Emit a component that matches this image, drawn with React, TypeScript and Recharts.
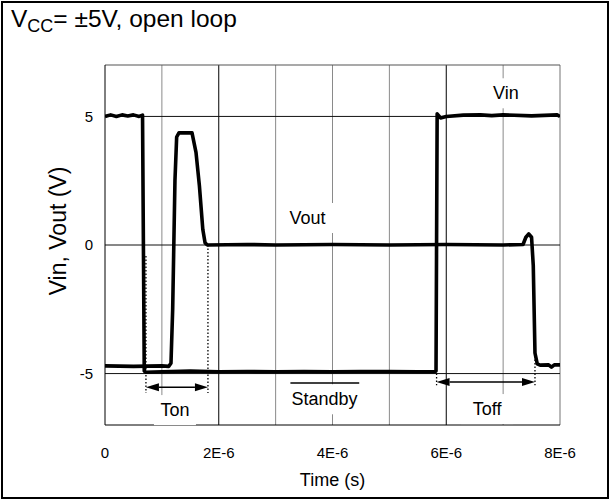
import {
  LineChart, Line, XAxis, YAxis, ReferenceLine, ReferenceDot,
} from 'recharts';

// time in microseconds, volts
const vinTime = [0, 0.1, 0.2, 0.3, 0.4, 0.5, 0.6, 0.66, 0.69, 0.72, 1.0, 1.5, 2.0, 2.5, 3.0, 3.5, 4.0, 4.5, 5.0, 5.5, 5.8, 5.82, 5.84, 5.9, 6.0, 6.3, 6.6, 6.8, 7.0, 7.5, 7.95, 8.0];
const vinValue = [5.0, 5.06, 5.0, 5.06, 5.02, 5.06, 5.0, 5.05, -4.9, -4.95, -4.93, -4.9, -4.93, -4.92, -4.93, -4.92, -4.93, -4.92, -4.92, -4.93, -4.93, -4.9, 5.1, 4.94, 5.0, 5.05, 5.06, 5.03, 5.06, 5.02, 5.06, 5.0];

const voutTime = [0, 0.5, 1.0, 1.12, 1.16, 1.19, 1.23, 1.26, 1.3, 1.53, 1.6, 1.66, 1.72, 1.76, 1.8, 2.5, 3.0, 4.0, 5.0, 6.0, 7.0, 7.35, 7.4, 7.45, 7.5, 7.53, 7.56, 7.6, 7.65, 7.8, 7.85, 7.9, 8.0];
const voutValue = [-4.7, -4.72, -4.7, -4.72, -4.6, -2.5, 2.5, 4.2, 4.36, 4.36, 3.6, 2.3, 0.6, 0.08, 0, 0.02, 0, 0.02, 0, 0.02, 0, 0.02, 0.3, 0.43, 0.3, -0.8, -4.2, -4.62, -4.67, -4.66, -4.75, -4.66, -4.66];

const xTicks = [0, 2, 4, 6, 8];
const yTicks = [-5, 0, 5];
const gridTimes = [1, 2, 3, 4, 5, 6, 7];
const darkGridTimes = [2, 6];

// switching markers (µs) and arrow levels (V)
const tonStart = 0.72;
const tonEnd = 1.81;
const toffStart = 5.83;
const toffEnd = 7.56;
const tonArrowLevel = -5.53;
const toffArrowLevel = -5.33;
const standbySpan = [3.26, 4.47];
const standbyLevel = -5.37;

const notes = [
  { text: 'Vout', t: 3.56, v: 1.05 },
  { text: 'Vin', t: 7.05, v: 5.9 },
  { text: 'Ton', t: 1.23, v: -6.42 },
  { text: 'Toff', t: 6.72, v: -6.38 },
  { text: 'Standby', t: 3.86, v: -6.0 },
];

const vin = vinTime.map((t, i) => ({ t, v: vinValue[i] }));
const vout = voutTime.map((t, i) => ({ t, v: voutValue[i] }));

const FONT = '"Liberation Sans", Arial, sans-serif';

function DoubleArrow(props: any) {
  const { x1, y1, x2 } = props;
  const h = 13;
  const w = 4;
  return (
    <g>
      <line x1={x1 + h} y1={y1} x2={x2 - h} y2={y1} stroke="#000" strokeWidth={1.5} />
      <polygon points={`${x1},${y1} ${x1 + h},${y1 - w} ${x1 + h},${y1 + w}`} fill="#000" />
      <polygon points={`${x2},${y1} ${x2 - h},${y1 - w} ${x2 - h},${y1 + w}`} fill="#000" />
    </g>
  );
}

function NoteLabel(text: string) {
  return (props: any) => {
    const { cx, cy } = props;
    const w = text.length * 10 + 12;
    return (
      <g>
        <rect x={cx - w / 2} y={cy - 15} width={w} height={30} fill="#fff" />
        <text x={cx} y={cy} textAnchor="middle" dominantBaseline="central"
          fontFamily={FONT} fontSize={18} fill="#000">{text}</text>
      </g>
    );
  };
}

export default function App() {
  return (
    <div style={{ position: 'absolute', left: 0, top: 0, width: 610, height: 500, background: '#fff' }}>
      <div style={{
        position: 'absolute', left: 1, top: 1, width: 604, height: 494,
        border: '2px solid #000',
      }} />
      <div style={{
        position: 'absolute', left: 11, top: 5, fontFamily: FONT, fontSize: 24.5,
        color: '#000', whiteSpace: 'nowrap', lineHeight: '28px',
      }}>
        V<sub style={{ fontSize: 18, verticalAlign: '-5px', lineHeight: 0 }}>CC</sub>= ±5V, open loop
      </div>
      <div style={{ position: 'absolute', left: 0, top: 0 }}>
        <LineChart width={610} height={500} data={vin}
          margin={{ top: 65, right: 50, bottom: 0, left: 0 }}>
          <XAxis dataKey="t" type="number" domain={[0, 8]} ticks={xTicks}
            allowDataOverflow height={75} stroke="#000" tickLine={false}
            tickMargin={16}
            tick={{ fontSize: 15, fill: '#000', fontFamily: FONT }}
            tickFormatter={(v) => (v === 0 ? '0' : `${v}E-6`)}
            label={{
              content: (p: any) => {
                const vb = p.viewBox;
                return (
                  <text x={vb.x + vb.width / 2} y={vb.y + 55} textAnchor="middle"
                    dominantBaseline="central" fontFamily={FONT} fontSize={18} fill="#000">
                    Time (s)
                  </text>
                );
              },
            }}
          />
          <YAxis type="number" domain={[-7, 7]} ticks={yTicks} width={105}
            allowDataOverflow stroke="#000" tickLine={false} tickSize={0} tickMargin={12}
            tick={{ fontSize: 15, fill: '#000', fontFamily: FONT }}
            label={{
              content: (p: any) => {
                const vb = p.viewBox;
                const x = vb.x + 58;
                const y = vb.y + vb.height / 2 - 14;
                return (
                  <text x={x} y={y} transform={`rotate(-90 ${x} ${y})`} textAnchor="middle"
                    dominantBaseline="central" fontFamily={FONT} fontSize={23} fill="#000">
                    Vin, Vout (V)
                  </text>
                );
              },
            }}
          />

          {gridTimes.map((t) => (
            <ReferenceLine key={`g${t}`} x={t}
              stroke={darkGridTimes.includes(t) ? '#000' : '#8a8a8a'} strokeWidth={1} />
          ))}
          <ReferenceLine x={8} stroke="#8a8a8a" strokeWidth={1.2} />
          <ReferenceLine y={7} stroke="#555" strokeWidth={1.2} />
          {yTicks.map((v) => (
            <ReferenceLine key={`h${v}`} y={v} stroke="#111" strokeWidth={1} />
          ))}

          {notes.map((n) => (
            <ReferenceDot key={n.text} x={n.t} y={n.v} r={1} shape={NoteLabel(n.text)} />
          ))}

          <ReferenceLine segment={[{ x: tonStart, y: -0.43 }, { x: tonStart, y: -5.76 }]}
            stroke="#000" strokeWidth={1.3} strokeDasharray="1.5 2" />
          <ReferenceLine segment={[{ x: tonEnd, y: 0 }, { x: tonEnd, y: -5.76 }]}
            stroke="#000" strokeWidth={1.3} strokeDasharray="1.5 2" />
          <ReferenceLine segment={[{ x: toffStart, y: -5 }, { x: toffStart, y: -5.45 }]}
            stroke="#000" strokeWidth={1.3} strokeDasharray="1.5 2" />
          <ReferenceLine segment={[{ x: toffEnd, y: -2.96 }, { x: toffEnd, y: -5.45 }]}
            stroke="#000" strokeWidth={1.3} strokeDasharray="1.5 2" />
          <ReferenceLine segment={[{ x: tonStart, y: tonArrowLevel }, { x: tonEnd, y: tonArrowLevel }]}
            shape={DoubleArrow} />
          <ReferenceLine segment={[{ x: toffStart, y: toffArrowLevel }, { x: toffEnd, y: toffArrowLevel }]}
            shape={DoubleArrow} />
          <ReferenceLine segment={[{ x: standbySpan[0], y: standbyLevel }, { x: standbySpan[1], y: standbyLevel }]}
            stroke="#000" strokeWidth={1.5} />

          <Line data={vin} dataKey="v" type="linear" stroke="#000" strokeWidth={3.6}
            strokeLinejoin="round" dot={false} isAnimationActive={false} />
          <Line data={vout} dataKey="v" type="linear" stroke="#000" strokeWidth={3.6}
            strokeLinejoin="round" dot={false} isAnimationActive={false} />
        </LineChart>
      </div>
    </div>
  );
}
